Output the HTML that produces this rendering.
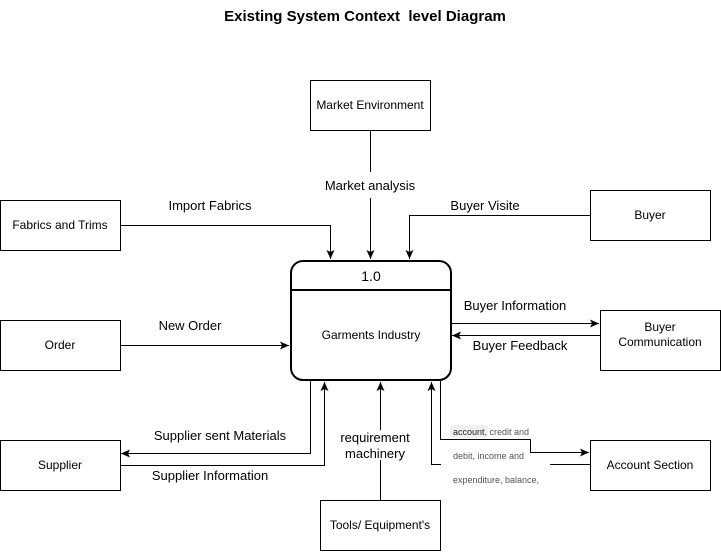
<!DOCTYPE html>
<html><head><style>body{margin:0;background:#fff}</style></head><body>
<svg width="721" height="552" xmlns="http://www.w3.org/2000/svg" font-family="Liberation Sans, Arial, sans-serif">
<defs><marker id="a" markerWidth="10" markerHeight="10" refX="9" refY="5" orient="auto" markerUnits="userSpaceOnUse"><path d="M0,1 L9,5 L0,9 L2,5 Z" fill="#000"/></marker></defs>
<rect width="721" height="552" fill="#fff"/>
<text x="365" y="21" text-anchor="middle" font-size="15" font-weight="bold" xml:space="preserve">Existing System Context  level Diagram</text>
<g fill="#fff" stroke="#000" stroke-width="1">
<rect x="310.5" y="80.5" width="120" height="50"/>
<rect x="0.5" y="200.5" width="120" height="50"/>
<rect x="590.5" y="190.5" width="120" height="50"/>
<rect x="0.5" y="320.5" width="120" height="50"/>
<rect x="600.5" y="310.5" width="120" height="60"/>
<rect x="0.5" y="440.5" width="120" height="50"/>
<rect x="320.5" y="500.5" width="120" height="50"/>
<rect x="590.5" y="440.5" width="120" height="50"/>
</g>
<rect x="291" y="261" width="160" height="119" rx="12" fill="#fff" stroke="#000" stroke-width="2"/>
<line x1="291" y1="290" x2="451" y2="290" stroke="#000" stroke-width="2"/>
<g font-size="12" text-anchor="middle">
<text x="370" y="109">Market Environment</text>
<text x="60" y="229">Fabrics and Trims</text>
<text x="650" y="219">Buyer</text>
<text x="60" y="349">Order</text>
<text x="660" y="331">Buyer</text><text x="660" y="346">Communication</text>
<text x="60" y="469">Supplier</text>
<text x="380" y="529">Tools/ Equipment's</text>
<text x="650" y="469">Account Section</text>
<text x="371" y="339">Garments Industry</text>
<text x="371" y="281" font-size="14">1.0</text>
</g>
<g fill="none" stroke="#000" stroke-width="1">
<path d="M370.5 130 V172 M370.5 198 V259" marker-end="url(#a)"/>
<path d="M120 225.5 H330.5 V259" marker-end="url(#a)"/>
<path d="M590 215.5 H409.5 V259" marker-end="url(#a)"/>
<path d="M120 345.5 H289" marker-end="url(#a)"/>
<path d="M452 323.5 H599" marker-end="url(#a)"/>
<path d="M600 335.5 H452" marker-end="url(#a)"/>
<path d="M310.5 381 V453.5 H121" marker-end="url(#a)"/>
<path d="M120 465.5 H324.5 V382" marker-end="url(#a)"/>
<path d="M380.5 500 V460 M380.5 430 V382" marker-end="url(#a)"/>
<path d="M440.5 381 V439.5 H530.5 V452.5 H589" marker-end="url(#a)"/>
<path d="M590 464.5 H550 M441 464.5 H431.5 V382" marker-end="url(#a)"/>
</g>
<g font-size="13" text-anchor="middle">
<text x="370" y="190">Market analysis</text>
<text x="210" y="210">Import Fabrics</text>
<text x="485" y="210">Buyer Visite</text>
<text x="190" y="330">New Order</text>
<text x="515" y="310">Buyer Information</text>
<text x="520" y="350">Buyer Feedback</text>
<text x="220" y="440">Supplier sent Materials</text>
<text x="210" y="480">Supplier Information</text>
<text x="375" y="442">requirement</text>
<text x="375" y="458">machinery</text>
</g>
<rect x="450" y="425" width="38" height="13" rx="3" fill="#f0f0f0"/>
<g font-size="9" fill="#555">
<text x="453" y="435"><tspan fill="#222">account</tspan>, credit and</text>
<text x="453" y="459">debit, income and</text>
<text x="453" y="483">expenditure, balance,</text>
</g>
</svg>
</body></html>
